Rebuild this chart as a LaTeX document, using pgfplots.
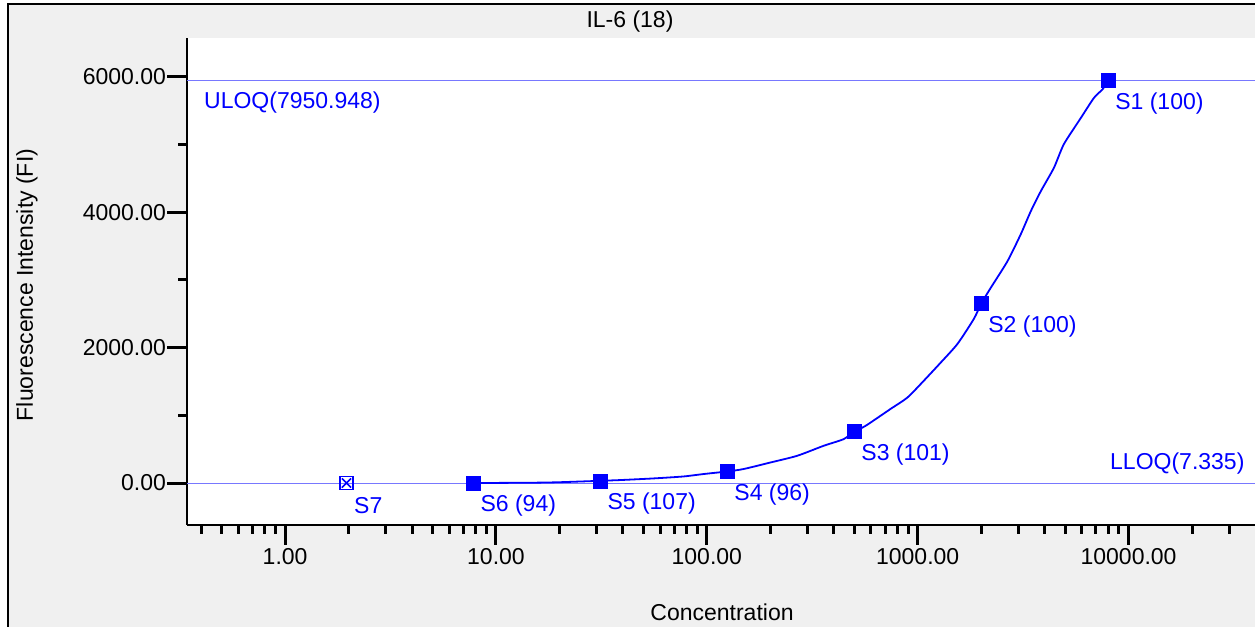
\documentclass[border=0pt]{standalone}
\usepackage{pgfplots}
\pgfplotsset{compat=1.18}
\usepackage{fontspec}
\setmainfont{Liberation Sans}
\definecolor{bgg}{HTML}{F0F0F0}
\definecolor{pblue}{RGB}{0,0,255}
\definecolor{lblue}{RGB}{120,120,255}
\newcommand{\bigf}{\fontsize{23bp}{27bp}\selectfont}
\begin{document}
\begin{tikzpicture}[x=1bp,y=1bp]
\fill[white,use as bounding box] (0,0) rectangle (1255,627);
\fill[bgg] (8,0) rectangle (1255,623);
\draw[black,line width=2bp] (8,0) -- (8,623) -- (1255,623);
\begin{axis}[
  at={(187bp,102bp)}, anchor=south west,
  scale only axis, width=1068bp, height=487bp,
  xmode=log, xmin=0.3425, xmax=39800, ymin=-620, ymax=6576,
  axis x line*=bottom, axis y line*=left,
  axis line style={line width=2bp,black,-},
  axis background/.style={fill=white},
  tick align=outside, xtick pos=left, ytick pos=left,
  major tick length=20bp, minor tick length=9bp,
  every tick/.style={black,line width=3bp},
  xtick={1,10,100,1000,10000},
  xticklabels={\mbox{1.00},\mbox{10.00},\mbox{100.00},\mbox{1000.00},\mbox{10000.00}},
  minor xtick={0.4,0.5,0.6,0.7,0.8,0.9,2,3,4,5,6,7,8,9,20,30,40,50,60,70,80,90,200,300,400,500,600,700,800,900,2000,3000,4000,5000,6000,7000,8000,9000,20000,30000},
  ytick={0,2000,4000,6000},
  yticklabels={\mbox{0.00},\mbox{2000.00},\mbox{4000.00},\mbox{6000.00}},
  minor ytick={1000,3000,5000},
  ticklabel style={font=\bigf, black},
  yticklabel style={inner xsep=1bp},
  clip=false,
]
% ULOQ / LLOQ lines
\addplot[lblue, line width=1bp] coordinates {(0.3425,5950) (39800,5950)};
\addplot[lblue, line width=1bp] coordinates {(0.3425,-10) (39800,-10)};
% fitted curve
\addplot[pblue, line width=1.8bp, smooth, tension=0.4] coordinates {
(7.8125,0) (15,5) (20,12) (31.25,33) (38.9,44) (55.8,68) (77.5,97) (96.5,133) (125,171)
(149.4,207) (200.6,304) (268.5,403) (357.8,550) (445.6,649) (500,761) (566.6,846)
(744.5,1096) (893.5,1263) (1068,1510) (1286,1780) (1544,2056) (1846,2425) (2000,2650)
(2222,2886) (2668,3280) (3085,3679) (3441,4018) (3838,4313) (4425,4657) (4935,5007)
(5941,5395) (6849,5690) (7534,5819) (8000,5947)};
% standards
\addplot[only marks, mark=square*, mark size=7bp, pblue, mark options={fill=pblue},
  point meta=explicit symbolic, nodes near coords,
  nodes near coords align={anchor=west},
  every node near coord/.append style={font=\bigf, text=pblue, anchor=west, inner sep=0pt, xshift=7bp, yshift=-23bp}]
coordinates {
(8000,5947) [S1 (100)]
(2000,2650) [S2 (100)]
(500,761) [S3 (101)]
(125,171) [S4 (96)]
(31.25,33) [S5 (107)]
(7.8125,0) [S6 (94)]
};
% excluded S7
\addplot[only marks, mark=square, mark size=6.5bp, pblue, line width=1.6bp,
  point meta=explicit symbolic, nodes near coords,
  nodes near coords align={anchor=west},
  every node near coord/.append style={font=\bigf, text=pblue, anchor=west, inner sep=0pt, xshift=7bp, yshift=-23bp}]
coordinates {(1.953,0) [S7]};
\addplot[only marks, mark=x, mark size=6.5bp, pblue, line width=1.6bp] coordinates {(1.953,0)};
\end{axis}
\node[anchor=west, inner sep=0pt, text=pblue, font=\bigf] at (204,524) {ULOQ(7950.948)};
\node[anchor=west, inner sep=0pt, text=pblue, font=\bigf] at (1110,163) {LLOQ(7.335)};
\node[font=\bigf] at (630,605) {IL-6 (18)};
\node[font=\bigf] at (722,15) {Concentration};
\node[font=\bigf, rotate=90] at (27,342) {Fluorescence Intensity (FI)};
\end{tikzpicture}
\end{document}
